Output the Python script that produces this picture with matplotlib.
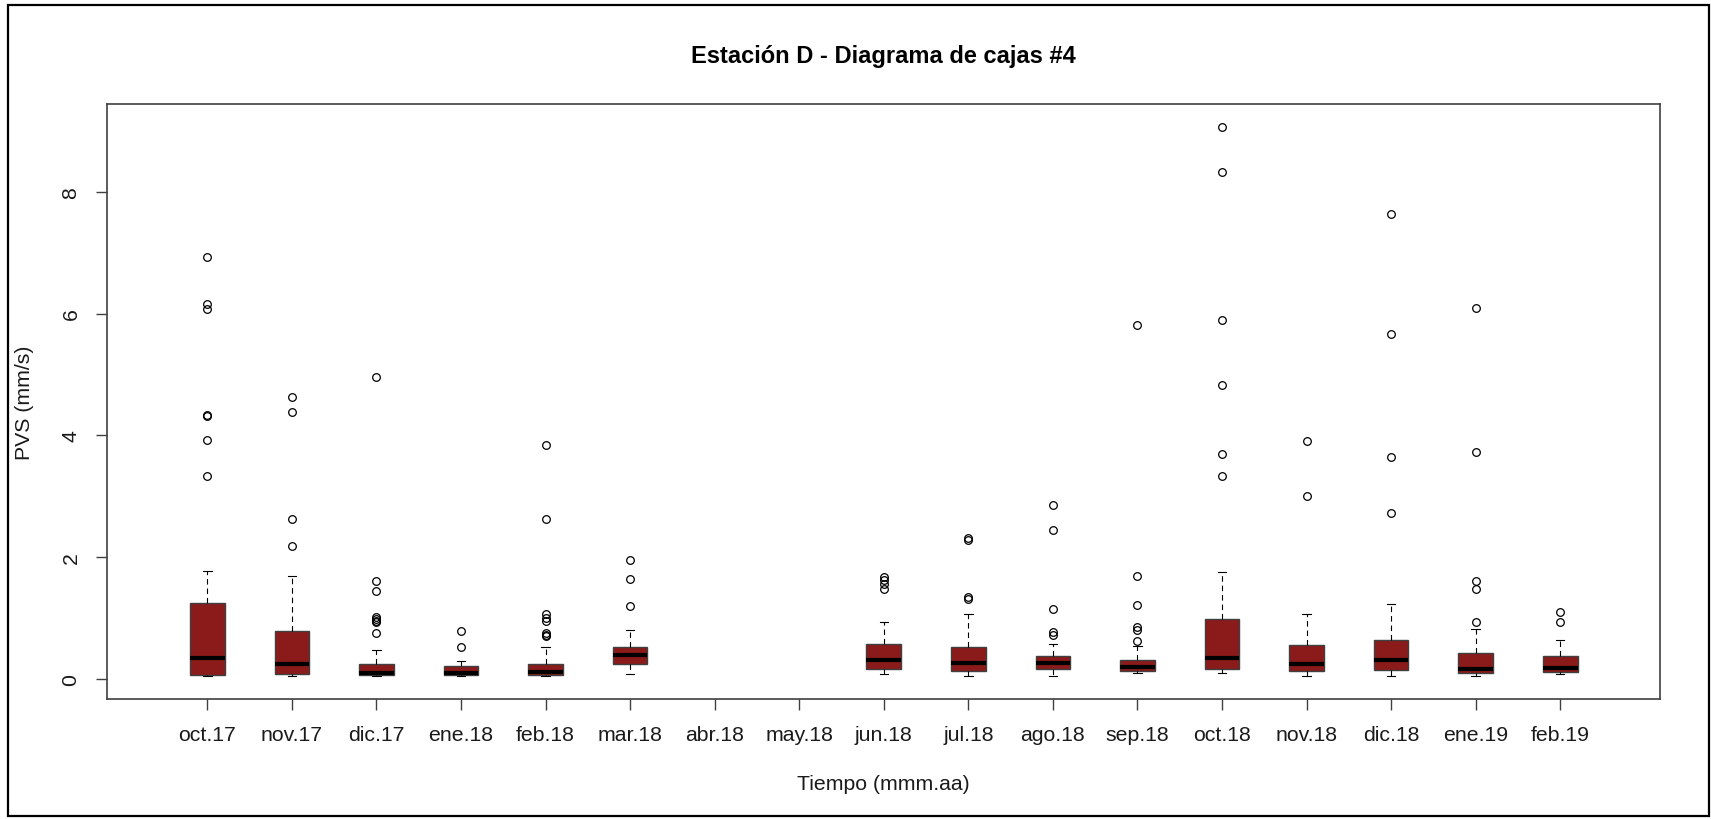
import matplotlib.pyplot as plt
from matplotlib.patches import Rectangle

plt.rcParams['font.family'] = ['Liberation Sans', 'DejaVu Sans']

# Meses (abr.18 y may.18 sin datos)
meses = ["oct.17", "nov.17", "dic.17", "ene.18", "feb.18", "mar.18", "abr.18", "may.18",
         "jun.18", "jul.18", "ago.18", "sep.18", "oct.18", "nov.18", "dic.18", "ene.19", "feb.19"]

whislo = [0.05, 0.05, 0.05, 0.05, 0.05, 0.08, None, None, 0.08, 0.055, 0.055, 0.10, 0.10, 0.055, 0.055, 0.055, 0.08]
q1 = [0.066, 0.085, 0.066, 0.066, 0.066, 0.25, None, None, 0.16, 0.13, 0.16, 0.13, 0.16, 0.13, 0.15, 0.10, 0.12]
mediana = [0.34, 0.24, 0.10, 0.10, 0.12, 0.40, None, None, 0.32, 0.27, 0.27, 0.20, 0.34, 0.25, 0.32, 0.16, 0.18]
q3 = [1.24, 0.79, 0.25, 0.22, 0.25, 0.52, None, None, 0.58, 0.52, 0.37, 0.32, 0.99, 0.56, 0.64, 0.42, 0.37]
whishi = [1.78, 1.69, 0.47, 0.30, 0.52, 0.80, None, None, 0.93, 1.07, 0.57, 0.54, 1.76, 1.07, 1.23, 0.82, 0.64]

atipicos = [
    [6.93, 6.15, 6.07, 4.34, 4.32, 3.93, 3.33],
    [4.63, 4.38, 2.62, 2.18],
    [4.96, 1.61, 1.44, 1.01, 0.98, 0.95, 0.93, 0.75],
    [0.79, 0.52],
    [3.85, 2.62, 1.07, 1.00, 0.95, 0.76, 0.73, 0.70],
    [1.96, 1.65, 1.20],
    [],
    [],
    [1.68, 1.62, 1.56, 1.48],
    [2.31, 2.29, 1.34, 1.32],
    [2.86, 2.45, 1.15, 0.77, 0.73],
    [5.82, 1.69, 1.22, 0.86, 0.81, 0.63],
    [9.07, 8.33, 5.90, 4.83, 3.70, 3.33],
    [3.91, 3.01],
    [7.63, 5.66, 3.64, 2.72],
    [6.09, 3.73, 1.61, 1.47, 0.93],
    [1.10, 0.93],
]

stats = []
pos = []
for i in range(len(meses)):
    if mediana[i] is None:
        continue
    stats.append(dict(whislo=whislo[i], q1=q1[i], med=mediana[i], q3=q3[i],
                      whishi=whishi[i], fliers=atipicos[i]))
    pos.append(i + 1)

fig = plt.figure(figsize=(17.11, 8.2), dpi=100)
ax = fig.add_axes([107 / 1711, 120 / 820, 1553 / 1711, 595 / 820])

gris = '#404040'
ax.bxp(stats, positions=pos, widths=0.41, capwidths=0.1, patch_artist=True,
       boxprops=dict(facecolor='#8B1A1A', edgecolor=gris, linewidth=1.0),
       medianprops=dict(color='black', linewidth=3.0, solid_capstyle='butt'),
       whiskerprops=dict(color='black', linewidth=0.8, linestyle=(0, (5, 3.5))),
       capprops=dict(color='black', linewidth=0.8),
       flierprops=dict(marker='o', markersize=5.5, markerfacecolor='none',
                       markeredgecolor='black', markeredgewidth=0.9))

ax.set_xlim(-0.187, 18.18)
ax.set_ylim(-0.328, 9.44)
ax.set_xticks(range(1, len(meses) + 1))
ax.set_xticklabels(meses, fontsize=15.3)
ax.set_yticks([0, 2, 4, 6, 8])
ax.set_yticklabels(['0', '2', '4', '6', '8'], fontsize=15.3, rotation=90, va='center')
ax.tick_params(colors=gris, labelcolor='#1a1a1a', length=8, width=1.0, pad=11)
for s in ax.spines.values():
    s.set_color(gris)
    s.set_linewidth(1.2)

ax.set_xlabel("Tiempo (mmm.aa)", fontsize=15.3, color='#1a1a1a', labelpad=21)
ax.set_ylabel("PVS (mm/s)", fontsize=15.3, color='#1a1a1a', labelpad=20)
fig.text(883 / 1711, 1 - 56 / 820, "Estación D - Diagrama de cajas #4", ha='center', va='center',
         fontsize=17, fontweight='bold')

fig.patches.append(Rectangle((8 / 1711, 3 / 820), 1701 / 1711, 811 / 820, transform=fig.transFigure,
                             fill=False, edgecolor='black', linewidth=1.6))

fig.savefig("out.png", dpi=100)
